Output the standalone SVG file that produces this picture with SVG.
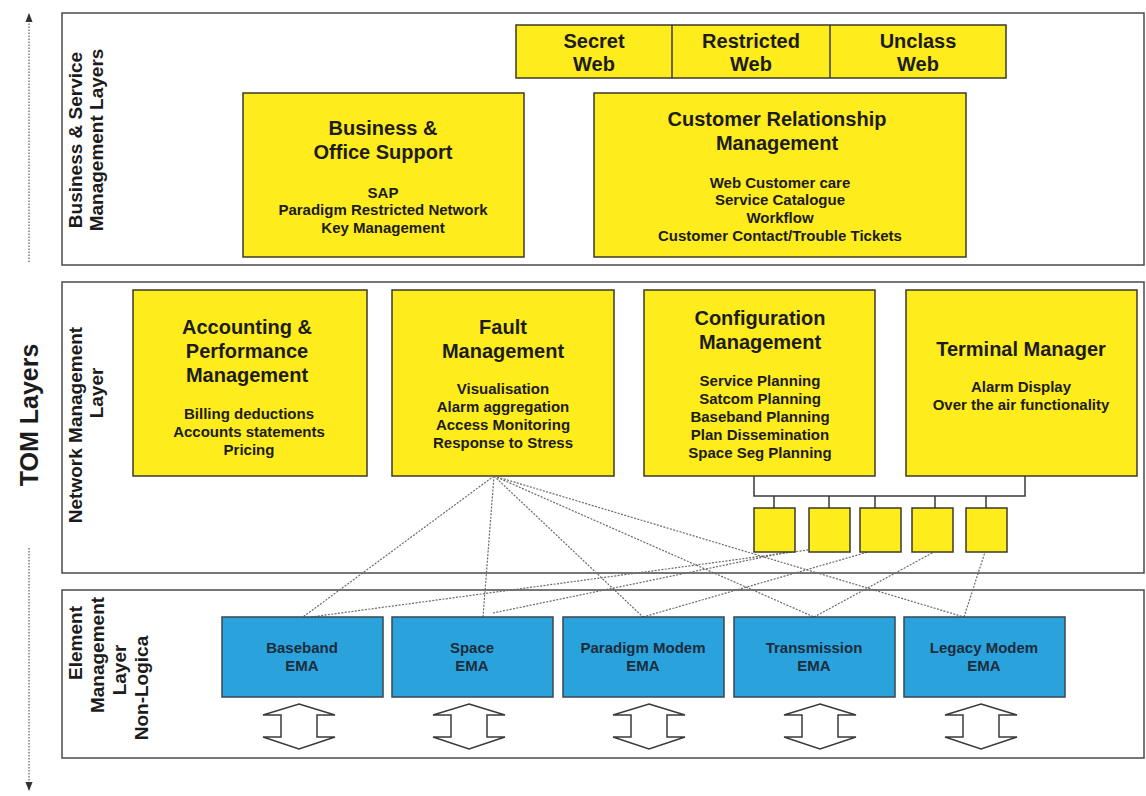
<svg xmlns="http://www.w3.org/2000/svg" width="1146" height="796" viewBox="0 0 1146 796">
<defs>
<style>
.panel{fill:#fff;stroke:#4a4a4a;stroke-width:1.5}
.yb{fill:#ffec1c;stroke:#3d3a2a;stroke-width:1.5}
.bb{fill:#2aa3dc;stroke:#3a4650;stroke-width:1.5}
.t{font-family:"Liberation Sans",Arial,sans-serif;font-weight:bold;text-anchor:middle;fill:#1c1c1c}
.title{font-size:20px}
.sub{font-size:15px}
.ema{font-size:15px;fill:#1d2c3c}
.lab{font-size:19px}
.tom{font-size:25px}
.dot{fill:none;stroke:#5a5a5a;stroke-width:1.2;stroke-dasharray:1.5 1.5}
.con{fill:none;stroke:#6a6a6a;stroke-width:1.2;stroke-dasharray:2 1.4}
.br{fill:none;stroke:#3a3a3a;stroke-width:1.5}
.arr{fill:#fff;stroke:#3a3a3a;stroke-width:1.5;stroke-linejoin:miter}
</style>
<marker id="ah" viewBox="0 0 10 10" refX="9" refY="5" markerWidth="9" markerHeight="9" orient="auto" markerUnits="userSpaceOnUse">
<path d="M0,1 L10,5 L0,9 Z" fill="#333"/>
</marker>
<polygon id="dbl" class="arr" points="0,0 36,11 18,11 18,33 36,33 0,45 -36,33 -18,33 -18,11 -36,11"/>
</defs>

<g id="axis">
<line class="dot" x1="29" y1="262" x2="29" y2="14" marker-end="url(#ah)"/>
<line class="dot" x1="29" y1="548" x2="29" y2="790" marker-end="url(#ah)"/>
<text class="t tom" transform="translate(38,415) rotate(-90)">TOM Layers</text>
</g>

<g id="layer-business">
<rect class="panel" x="62" y="13" width="1082" height="252"/>
<text class="t lab" transform="translate(82,140) rotate(-90)">Business &amp; Service</text>
<text class="t lab" transform="translate(103,140) rotate(-90)">Management Layers</text>
</g>
<g id="layer-network">
<rect class="panel" x="62" y="282" width="1082" height="291"/>
<text class="t lab" transform="translate(82,425) rotate(-90)">Network Management</text>
<text class="t lab" transform="translate(103,393) rotate(-90)">Layer</text>
</g>
<g id="layer-element">
<rect class="panel" x="62" y="590" width="1082" height="168"/>
<text class="t lab" transform="translate(82,643) rotate(-90)">Element</text>
<text class="t lab" transform="translate(104,655) rotate(-90)">Management</text>
<text class="t lab" transform="translate(126,670) rotate(-90)">Layer</text>
<text class="t lab" transform="translate(148,688) rotate(-90)">Non-Logica</text>
</g>

<g id="web">
<rect class="yb" x="516" y="25" width="490" height="53"/>
<line class="br" x1="672" y1="25" x2="672" y2="78"/>
<line class="br" x1="830" y1="25" x2="830" y2="78"/>
<text class="t title" x="594" y="48">Secret</text>
<text class="t title" x="594" y="71">Web</text>
<text class="t title" x="751" y="48">Restricted</text>
<text class="t title" x="751" y="71">Web</text>
<text class="t title" x="918" y="48">Unclass</text>
<text class="t title" x="918" y="71">Web</text>
</g>

<g id="bos">
<rect class="yb" x="243" y="93" width="281" height="164"/>
<text class="t title" x="383" y="135">Business &amp;</text>
<text class="t title" x="383" y="159">Office Support</text>
<text class="t sub" x="383" y="198">SAP</text>
<text class="t sub" x="383" y="215">Paradigm Restricted Network</text>
<text class="t sub" x="383" y="233">Key Management</text>
</g>

<g id="crm">
<rect class="yb" x="594" y="93" width="372" height="164"/>
<text class="t title" x="777" y="126">Customer Relationship</text>
<text class="t title" x="777" y="150">Management</text>
<text class="t sub" x="780" y="188">Web Customer care</text>
<text class="t sub" x="780" y="205">Service Catalogue</text>
<text class="t sub" x="780" y="223">Workflow</text>
<text class="t sub" x="780" y="241">Customer Contact/Trouble Tickets</text>
</g>

<g id="acc">
<rect class="yb" x="133" y="290" width="234" height="186"/>
<text class="t title" x="247" y="334">Accounting &amp;</text>
<text class="t title" x="247" y="358">Performance</text>
<text class="t title" x="247" y="382">Management</text>
<text class="t sub" x="249" y="419">Billing deductions</text>
<text class="t sub" x="249" y="437">Accounts statements</text>
<text class="t sub" x="249" y="455">Pricing</text>
</g>

<g id="fault">
<rect class="yb" x="392" y="290" width="222" height="186"/>
<text class="t title" x="503" y="334">Fault</text>
<text class="t title" x="503" y="358">Management</text>
<text class="t sub" x="503" y="394">Visualisation</text>
<text class="t sub" x="503" y="412">Alarm aggregation</text>
<text class="t sub" x="503" y="430">Access Monitoring</text>
<text class="t sub" x="503" y="448">Response to Stress</text>
</g>

<g id="config">
<rect class="yb" x="644" y="290" width="231" height="186"/>
<text class="t title" x="760" y="325">Configuration</text>
<text class="t title" x="760" y="349">Management</text>
<text class="t sub" x="760" y="386">Service Planning</text>
<text class="t sub" x="760" y="404">Satcom Planning</text>
<text class="t sub" x="760" y="422">Baseband Planning</text>
<text class="t sub" x="760" y="440">Plan Dissemination</text>
<text class="t sub" x="760" y="458">Space Seg Planning</text>
</g>

<g id="terminal">
<rect class="yb" x="906" y="290" width="231" height="186"/>
<text class="t title" x="1021" y="356">Terminal Manager</text>
<text class="t sub" x="1021" y="392">Alarm Display</text>
<text class="t sub" x="1021" y="410">Over the air functionality</text>
</g>

<g id="connectors">
<path class="br" d="M754,476 V496 H1025 V476 M774,496 V508 M829,496 V508 M875,496 V508 M935,496 V508 M986,496 V508"/>
<line class="con" x1="494" y1="476" x2="303" y2="617"/>
<line class="con" x1="494" y1="476" x2="483" y2="617"/>
<line class="con" x1="494" y1="476" x2="643" y2="617"/>
<line class="con" x1="494" y1="476" x2="814" y2="617"/>
<line class="con" x1="494" y1="476" x2="964" y2="617"/>
<line class="con" x1="311" y1="617" x2="837" y2="546"/>
<line class="con" x1="493" y1="613" x2="788" y2="552"/>
<line class="con" x1="643" y1="617" x2="868" y2="552"/>
<line class="con" x1="814" y1="617" x2="934" y2="552"/>
<line class="con" x1="964" y1="617" x2="985" y2="552"/>
</g>

<g id="sq1"><rect class="yb" x="754" y="508" width="41" height="44"/></g>
<g id="sq2"><rect class="yb" x="809" y="508" width="41" height="44"/></g>
<g id="sq3"><rect class="yb" x="860" y="508" width="41" height="44"/></g>
<g id="sq4"><rect class="yb" x="912" y="508" width="41" height="44"/></g>
<g id="sq5"><rect class="yb" x="966" y="508" width="41" height="44"/></g>

<g id="ema-baseband">
<rect class="bb" x="222" y="617" width="161" height="80"/>
<text class="t ema" x="302" y="653">Baseband</text>
<text class="t ema" x="302" y="671">EMA</text>
<use href="#dbl" x="299" y="704"/>
</g>
<g id="ema-space">
<rect class="bb" x="392" y="617" width="161" height="80"/>
<text class="t ema" x="472" y="653">Space</text>
<text class="t ema" x="472" y="671">EMA</text>
<use href="#dbl" x="469" y="704"/>
</g>
<g id="ema-paradigm">
<rect class="bb" x="563" y="617" width="161" height="80"/>
<text class="t ema" x="643" y="653">Paradigm Modem</text>
<text class="t ema" x="643" y="671">EMA</text>
<use href="#dbl" x="649" y="704"/>
</g>
<g id="ema-transmission">
<rect class="bb" x="734" y="617" width="161" height="80"/>
<text class="t ema" x="814" y="653">Transmission</text>
<text class="t ema" x="814" y="671">EMA</text>
<use href="#dbl" x="820" y="704"/>
</g>
<g id="ema-legacy">
<rect class="bb" x="904" y="617" width="161" height="80"/>
<text class="t ema" x="984" y="653">Legacy Modem</text>
<text class="t ema" x="984" y="671">EMA</text>
<use href="#dbl" x="981" y="704"/>
</g>
</svg>
